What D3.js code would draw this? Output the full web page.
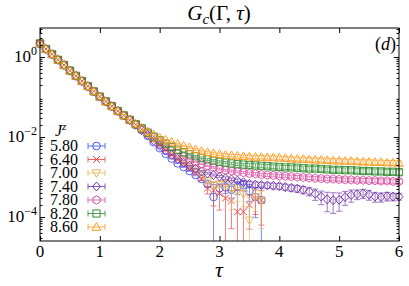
<!DOCTYPE html>
<html>
<head>
<meta charset="utf-8">
<script src="https://cdn.jsdelivr.net/npm/d3@7"></script>
<style>
  body { margin: 0; background: #fff; }
</style>
</head>
<body>
<div id="viz"></div>
<script>
// imaginary time grid
const taus = [0.0, 0.1, 0.2, 0.3, 0.4, 0.5, 0.6, 0.7, 0.8, 0.9,
  1.0, 1.1, 1.2, 1.3, 1.4, 1.5, 1.6, 1.7, 1.8, 1.9,
  2.0, 2.1, 2.2, 2.3, 2.4, 2.5, 2.6, 2.7, 2.8, 2.9,
  3.0, 3.1, 3.2, 3.3, 3.4, 3.5, 3.6, 3.7, 3.8, 3.9,
  4.0, 4.1, 4.2, 4.3, 4.4, 4.5, 4.6, 4.7, 4.8, 4.9,
  5.0, 5.1, 5.2, 5.3, 5.4, 5.5, 5.6, 5.7, 5.8, 5.9, 6.0];

const jzLabels = ['5.80', '6.40', '7.00', '7.40', '7.80', '8.20', '8.60'];

// log10 G_c(Gamma, tau)
const logG580 = [0.34, 0.20, 0.07, -0.07, -0.20, -0.34, -0.47, -0.60, -0.73, -0.86,
  -0.99, -1.11, -1.23, -1.35, -1.46, -1.58, -1.70, -1.83, -1.97, -2.13,
  -2.28, -2.42, -2.54, -2.66, -2.75, -2.85, -2.95, -3.05, -3.18, -3.50,
  -3.28, -3.26, -3.32, -3.25, -3.20, -3.35, -3.50, -3.58];
const logG640 = [0.34, 0.20, 0.07, -0.07, -0.20, -0.34, -0.47, -0.60, -0.73, -0.86,
  -0.99, -1.11, -1.23, -1.35, -1.46, -1.58, -1.69, -1.81, -1.93, -2.06,
  -2.19, -2.32, -2.45, -2.57, -2.68, -2.79, -2.90, -3.05, -3.28, -3.33,
  -3.41, -3.53, -3.60, -3.87, -3.87, -3.70, -3.53, -3.58];
const logG700 = [0.34, 0.20, 0.07, -0.07, -0.20, -0.34, -0.47, -0.60, -0.73, -0.86,
  -0.99, -1.11, -1.23, -1.35, -1.46, -1.57, -1.68, -1.80, -1.92, -2.04,
  -2.16, -2.28, -2.39, -2.50, -2.60, -2.70, -2.80, -2.92, -3.10, -3.20,
  -3.18, -3.18, -3.30, -3.35, -3.42, -4.08, -3.50, -3.60];
const logG740 = [0.34, 0.20, 0.07, -0.07, -0.20, -0.34, -0.47, -0.60, -0.73, -0.86,
  -0.99, -1.11, -1.23, -1.35, -1.46, -1.57, -1.69, -1.82, -1.95, -2.09,
  -2.22, -2.34, -2.45, -2.55, -2.64, -2.72, -2.79, -2.86, -2.91, -2.95,
  -2.99, -3.03, -3.06, -3.09, -3.13, -3.17, -3.19, -3.20, -3.21, -3.22,
  -3.23, -3.25, -3.27, -3.29, -3.32, -3.36, -3.42, -3.49, -3.56, -3.58,
  -3.57, -3.50, -3.45, -3.43, -3.41, -3.44, -3.49, -3.50, -3.48, -3.49, -3.49];
const logG780 = [0.34, 0.20, 0.07, -0.07, -0.20, -0.34, -0.47, -0.60, -0.73, -0.86,
  -0.99, -1.11, -1.23, -1.35, -1.46, -1.57, -1.68, -1.79, -1.90, -2.01,
  -2.12, -2.22, -2.32, -2.41, -2.49, -2.56, -2.62, -2.67, -2.72, -2.76,
  -2.80, -2.83, -2.85, -2.87, -2.89, -2.91, -2.92, -2.94, -2.95, -2.96,
  -2.97, -2.98, -2.99, -3.00, -3.01, -3.02, -3.03, -3.04, -3.05, -3.05,
  -3.06, -3.07, -3.07, -3.08, -3.08, -3.09, -3.09, -3.10, -3.10, -3.11, -3.11];
const logG820 = [0.34, 0.20, 0.07, -0.07, -0.20, -0.34, -0.47, -0.60, -0.73, -0.86,
  -0.99, -1.11, -1.23, -1.35, -1.46, -1.57, -1.68, -1.78, -1.89, -1.99,
  -2.08, -2.17, -2.25, -2.32, -2.38, -2.43, -2.48, -2.52, -2.56, -2.59,
  -2.62, -2.64, -2.66, -2.68, -2.69, -2.70, -2.71, -2.72, -2.73, -2.74,
  -2.75, -2.76, -2.76, -2.77, -2.78, -2.79, -2.79, -2.80, -2.81, -2.82,
  -2.82, -2.83, -2.83, -2.84, -2.85, -2.85, -2.86, -2.86, -2.87, -2.87, -2.88];
const logG860 = [0.34, 0.20, 0.07, -0.07, -0.20, -0.34, -0.47, -0.60, -0.73, -0.86,
  -0.99, -1.11, -1.23, -1.35, -1.46, -1.57, -1.67, -1.77, -1.86, -1.94,
  -2.01, -2.07, -2.12, -2.17, -2.22, -2.26, -2.31, -2.35, -2.38, -2.41,
  -2.43, -2.45, -2.46, -2.47, -2.48, -2.49, -2.50, -2.50, -2.51, -2.51,
  -2.52, -2.53, -2.54, -2.55, -2.55, -2.56, -2.57, -2.57, -2.58, -2.59,
  -2.59, -2.60, -2.60, -2.61, -2.62, -2.62, -2.63, -2.63, -2.64, -2.64, -2.65];

// error bars, in units of 1e-4
const err580 = [0, 0, 0, 0, 0, 0, 0, 0, 0, 0, 0, 0, 0, 0, 0, 0, 0, 0, 0, 0,
  0.3, 0.3, 0.3, 0.3, 0.4, 0.4, 0.5, 0.6, 0.8, 3.3, 1.5, 1.6, 1.8, 2.0, 1.8, 2.0, 2.2, 3.0];
const err640 = [0, 0, 0, 0, 0, 0, 0, 0, 0, 0, 0, 0, 0, 0, 0, 0, 0, 0, 0, 0,
  0.3, 0.3, 0.4, 0.4, 0.5, 0.5, 0.6, 0.8, 1.5, 2.8, 2.4, 3.5, 2.0, 3.5, 3.2, 1.5, 1.8, 2.0];
const err700 = [0, 0, 0, 0, 0, 0, 0, 0, 0, 0, 0, 0, 0, 0, 0, 0, 0, 0, 0, 0,
  0.3, 0.3, 0.4, 0.4, 0.5, 0.5, 0.6, 0.8, 1.0, 1.2, 1.2, 1.5, 3.5, 2.0, 2.0, 2.3, 1.8, 2.0];
const err740 = [0, 0, 0, 0, 0, 0, 0, 0, 0, 0, 0, 0, 0, 0, 0, 0, 0, 0, 0, 0,
  0.3, 0.3, 0.3, 0.3, 0.3, 0.4, 0.4, 0.5, 0.5, 0.6, 0.6, 0.7, 0.7, 0.8, 0.8,
  1.0, 1.0, 1.0, 1.0, 1.0, 1.0, 1.0, 1.0, 1.0, 1.0,
  1.0, 1.2, 1.2, 1.4, 1.4, 1.3, 1.2, 1.2, 1.0, 1.0,
  1.0, 0.9, 0.8, 0.8, 0.7, 0.6];
const err780 = [0, 0, 0, 0, 0, 0, 0, 0, 0, 0, 0, 0, 0, 0, 0, 0, 0, 0, 0, 0,
  0.5, 0.5, 0.5, 0.5, 0.5, 0.8, 0.8, 0.8, 0.8, 0.8, 0.8, 0.8, 0.8, 0.8, 0.8,
  0.9, 0.9, 0.9, 0.9, 0.9, 0.9, 0.9, 0.9, 0.9, 0.9,
  0.9, 0.9, 0.9, 0.9, 0.9, 0.9, 0.9, 0.9, 0.9, 0.9,
  1.0, 1.0, 1.0, 1.0, 1.0, 1.0];
const err820 = [0, 0, 0, 0, 0, 0, 0, 0, 0, 0, 0, 0, 0, 0, 0, 0, 0, 0, 0, 0,
  1.0, 1.0, 1.0, 1.0, 1.0, 1.5, 1.5, 1.5, 1.5, 1.5, 1.5, 1.5, 1.5, 1.5, 1.5,
  2.0, 2.0, 2.0, 2.0, 2.0, 2.0, 2.0, 2.0, 2.0, 2.0,
  2.0, 2.0, 2.0, 2.0, 2.0, 2.0, 2.0, 2.0, 2.0, 2.0,
  2.0, 2.0, 2.0, 2.0, 2.0, 2.0];
const err860 = [0, 0, 0, 0, 0, 0, 0, 0, 0, 0, 0, 0, 0, 0, 0, 0, 0, 0, 0, 0,
  2.0, 2.0, 2.0, 2.0, 2.0, 2.5, 2.5, 2.5, 2.5, 2.5, 2.5, 2.5, 2.5, 2.5, 2.5,
  3.0, 3.0, 3.0, 3.0, 3.0, 3.0, 3.0, 3.0, 3.0, 3.0,
  3.0, 3.0, 3.0, 3.0, 3.0, 3.0, 3.0, 3.0, 3.0, 3.0,
  3.0, 3.0, 3.0, 3.0, 3.0, 3.0];

const xTicks = [0, 1, 2, 3, 4, 5, 6];
const yMajorExps = [0, -2, -4];

// ---------------------------------------------------------------
const width = 409, height = 286;
const margin = { top: 28, right: 10, bottom: 45, left: 40 };
const x0 = margin.left, x1 = width - margin.right;
const y0 = margin.top, y1 = height - margin.bottom;
const fontSerif = '"Liberation Serif"';

const svg = d3.select('#viz').append('svg')
  .attr('width', width).attr('height', height);

const x = d3.scaleLinear().domain([0, 6]).range([x0, x1]);
const y = d3.scaleLog().domain([Math.pow(10, -4.6), Math.pow(10, 0.725)]).range([y1, y0]);
const yMin = y.domain()[0];

// text helper so every label gets the serif face
function label(parent, px, py, size) {
  return parent.append('text').attr('x', px).attr('y', py)
    .attr('font-size', size).style('font-family', fontSerif).style('fill', '#000');
}

// marker shapes, r ~ half width in px
const markers = {
  circle: r => `M${-r},0a${r},${r} 0 1,0 ${2 * r},0a${r},${r} 0 1,0 ${-2 * r},0Z`,
  cross: r => `M${-r},${-r}L${r},${r}M${-r},${r}L${r},${-r}`,
  triDown: r => `M${-r},${-r * 0.75}L${r},${-r * 0.75}L0,${r}Z`,
  diamond: r => `M0,${-r}L${r * 0.9},0L0,${r}L${-r * 0.9},0Z`,
  hexagon: r => {
    const p = d3.range(6).map(k => {
      const a = Math.PI / 3 * k - Math.PI / 2;
      return [r * Math.cos(a), r * Math.sin(a)];
    });
    return 'M' + p.map(q => q.join(',')).join('L') + 'Z';
  },
  square: r => `M${-r},${-r}H${r}V${r}H${-r}Z`,
  triUp: r => `M${-r},${r * 0.75}L${r},${r * 0.75}L0,${-r}Z`
};

const series = [
  { label: jzLabels[0], vals: logG580, errs: err580, color: '#3a55ff', marker: 'circle', r: 3.8 },
  { label: jzLabels[1], vals: logG640, errs: err640, color: '#f03c3c', marker: 'cross', r: 3.4 },
  { label: jzLabels[2], vals: logG700, errs: err700, color: '#e6b85a', marker: 'triDown', r: 4.3 },
  { label: jzLabels[3], vals: logG740, errs: err740, color: '#7030a8', marker: 'diamond', r: 4.5 },
  { label: jzLabels[4], vals: logG780, errs: err780, color: '#d8489e', marker: 'hexagon', r: 4.2 },
  { label: jzLabels[5], vals: logG820, errs: err820, color: '#2f8a2f', marker: 'square', r: 3.6 },
  { label: jzLabels[6], vals: logG860, errs: err860, color: '#ff9a1a', marker: 'triUp', r: 4.4 }
];

svg.append('defs').append('clipPath').attr('id', 'plotclip')
  .append('rect').attr('x', 0).attr('y', y0).attr('width', width).attr('height', y1 - y0);

const plot = svg.append('g').attr('clip-path', 'url(#plotclip)');

series.forEach(s => {
  const pts = s.vals.map((v, i) => ({ t: taus[i], g: Math.pow(10, v), e: s.errs[i] * 1e-4 }));
  const g = plot.append('g');

  // error bars
  const eb = g.append('g').attr('stroke', s.color).attr('stroke-width', 1).attr('opacity', 0.65);
  pts.filter(d => d.e > 0).forEach(d => {
    const px = x(d.t);
    const hi = y(d.g + d.e);
    const loVal = d.g - d.e;
    const lo = loVal > yMin ? y(loVal) : y1 + 2;
    eb.append('line').attr('x1', px).attr('x2', px).attr('y1', hi).attr('y2', lo);
    eb.append('line').attr('x1', px - 3).attr('x2', px + 3).attr('y1', hi).attr('y2', hi);
    if (loVal > yMin) eb.append('line').attr('x1', px - 3).attr('x2', px + 3).attr('y1', lo).attr('y2', lo);
  });

  // markers
  g.selectAll('path.m').data(pts).enter().append('path')
    .attr('class', 'm')
    .attr('transform', d => `translate(${x(d.t)},${y(d.g)})`)
    .attr('d', markers[s.marker](s.r))
    .attr('fill', 'none')
    .attr('stroke', s.color)
    .attr('stroke-opacity', 0.9)
    .attr('stroke-width', 1);
});

// axes: ticks pointing inward, labels drawn separately
const minorTicks = [];
for (let e = -5; e <= 0; e++) for (let k = 2; k <= 9; k++) {
  const v = k * Math.pow(10, e);
  if (v >= y.domain()[0] && v <= y.domain()[1]) minorTicks.push(v);
}
const majorVals = yMajorExps.map(e => Math.pow(10, e));

svg.append('g').attr('transform', `translate(0,${y1})`)
  .call(d3.axisBottom(x).tickValues(xTicks).tickSize(-5).tickFormat(''))
  .call(g => g.select('.domain').remove());

svg.append('g').attr('transform', `translate(0,${y0})`)
  .call(d3.axisTop(x).tickValues(xTicks).tickSize(-5).tickFormat(''))
  .call(g => g.select('.domain').remove());

[[d3.axisLeft, x0], [d3.axisRight, x1]].forEach(([ax, px]) => {
  svg.append('g').attr('transform', `translate(${px},0)`)
    .call(ax(y).tickValues(majorVals).tickSize(-5).tickFormat(''))
    .call(g => g.select('.domain').remove());
  svg.append('g').attr('transform', `translate(${px},0)`)
    .call(ax(y).tickValues(minorTicks).tickSize(-2.5).tickFormat(''))
    .call(g => g.select('.domain').remove());
});

svg.append('rect')
  .attr('x', x0).attr('y', y0).attr('width', x1 - x0).attr('height', y1 - y0)
  .attr('fill', 'none').attr('stroke', '#000').attr('stroke-width', 1);

// x tick labels
xTicks.forEach(t => {
  label(svg, x(t), y1 + 16, 17).attr('text-anchor', 'middle').text(t);
});

// y tick labels 10^n
yMajorExps.forEach(e => {
  const t = label(svg, 37, y(Math.pow(10, e)) + 5, 17).attr('text-anchor', 'end');
  t.append('tspan').text('10');
  t.append('tspan').attr('font-size', 12).attr('dy', -7).text(e === 0 ? '0' : '\u2212' + Math.abs(e));
});

// title
const title = label(svg, 219, 20, 21).attr('text-anchor', 'middle');
title.append('tspan').attr('font-style', 'italic').text('G');
title.append('tspan').attr('font-style', 'italic').attr('font-size', 15).attr('dy', 4).text('c');
title.append('tspan').attr('dy', -4).text('(\u0393, ');
title.append('tspan').attr('font-style', 'italic').text('\u03C4');
title.append('tspan').text(')');

// x label
label(svg, 219, 277, 22).attr('text-anchor', 'middle').attr('font-style', 'italic').text('\u03C4');

// panel tag
const tag = label(svg, 396, 50, 18).attr('text-anchor', 'end');
tag.append('tspan').text('(');
tag.append('tspan').attr('font-style', 'italic').text('d');
tag.append('tspan').text(')');

// legend
const jz = label(svg, 55, 136, 16);
jz.append('tspan').attr('font-style', 'italic').text('J');
jz.append('tspan').attr('font-style', 'italic').attr('font-size', 11).attr('dy', -6).text('z');

const legend = svg.append('g');
series.forEach((s, i) => {
  const cy = 146 + i * 13.5;
  label(legend, 78, cy + 5, 16).attr('text-anchor', 'end').text(s.label);
  const lg = legend.append('g').attr('stroke', s.color).attr('stroke-width', 1).attr('fill', 'none');
  lg.append('line').attr('x1', 88).attr('x2', 105).attr('y1', cy).attr('y2', cy).attr('opacity', 0.8);
  lg.append('line').attr('x1', 88).attr('x2', 88).attr('y1', cy - 3).attr('y2', cy + 3).attr('opacity', 0.8);
  lg.append('line').attr('x1', 105).attr('x2', 105).attr('y1', cy - 3).attr('y2', cy + 3).attr('opacity', 0.8);
  lg.append('path').attr('transform', `translate(96.5,${cy})`).attr('d', markers[s.marker](s.r));
});
</script>
</body>
</html>
